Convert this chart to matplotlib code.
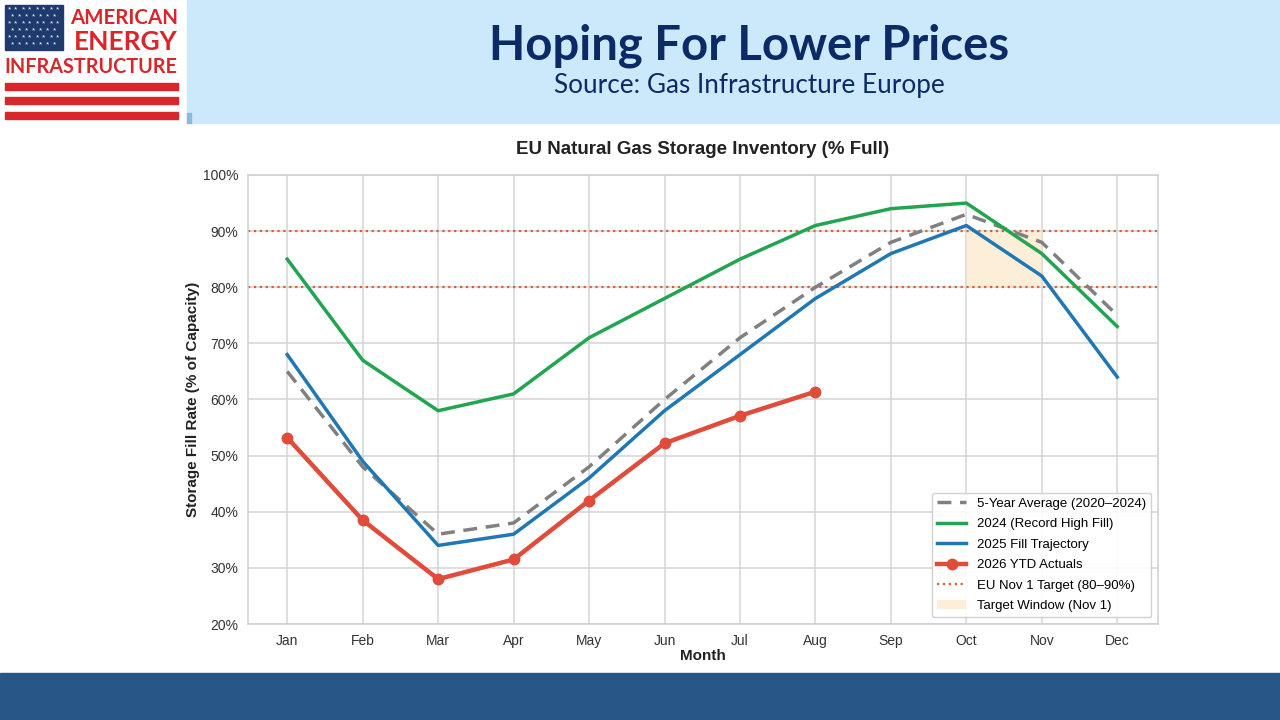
import numpy as np
import matplotlib.pyplot as plt
from matplotlib.patches import Rectangle

plt.rcParams['font.family'] = ['Liberation Sans', 'DejaVu Sans']

# data
months = ['Jan', 'Feb', 'Mar', 'Apr', 'May', 'Jun', 'Jul', 'Aug', 'Sep', 'Oct', 'Nov', 'Dec']
avg_5yr = [65, 48, 36, 38, 48, 60, 71, 80, 88, 93, 88, 75]
fill_2024 = [85, 67, 58, 61, 71, 78, 85, 91, 94, 95, 86, 73]
fill_2025 = [68, 49, 34, 36, 46, 58, 68, 78, 86, 91, 82, 64]
ytd_2026 = [53.2, 38.5, 28.0, 31.5, 42.0, 52.2, 57.1, 61.4]
target_low = 80
target_high = 90
window_months = ['Oct', 'Nov']

fig = plt.figure(figsize=(12.8, 7.2), dpi=100)

# header band and footer band
fig.patches.append(Rectangle((187/1280, 1 - 123/720), 1 - 187/1280, 123/720,
                             transform=fig.transFigure, color='#cce9fb', zorder=0))
fig.patches.append(Rectangle((187/1280, 1 - 123/720), 4/1280, 10/720,
                             transform=fig.transFigure, color='#8fb8de', zorder=1))
fig.patches.append(Rectangle((0, 0), 1, 47/720, transform=fig.transFigure,
                             color='#285686', zorder=0))

fig.text(749/1280, 1 - 46/720, 'Hoping For Lower Prices', ha='center', va='center',
         fontsize=34, fontweight='bold', color='#0c2a66', family=['Lato', 'DejaVu Sans'])
fig.text(749/1280, 1 - 86/720, 'Source: Gas Infrastructure Europe', ha='center', va='center',
         fontsize=18.8, color='#0c2a66', family=['Lato', 'DejaVu Sans'])

# logo
logo_red = '#d9262b'
fig.patches.append(Rectangle((5/1280, 1 - 50/720), 58/1280, 45/720,
                             transform=fig.transFigure, color='#1e3a6e', zorder=2))
for r in range(6):
    for c in range(8 if r % 2 == 0 else 7):
        sx = (9 + c * 7 + (3.5 if r % 2 else 0)) / 1280
        sy = 1 - (10 + r * 7) / 720
        fig.text(sx, sy, '*', color='white', fontsize=6, ha='center', va='center', zorder=3)
fig.text(178/1280, 1 - 18/720, 'AMERICAN', ha='right', va='center', fontsize=14.8,
         fontweight='bold', color=logo_red, family=['Lato', 'DejaVu Sans'])
fig.text(178/1280, 1 - 42/720, 'ENERGY', ha='right', va='center', fontsize=19,
         fontweight='bold', color=logo_red, family=['Lato', 'DejaVu Sans'])
fig.text(4/1280, 1 - 67/720, 'INFRASTRUCTURE', ha='left', va='center', fontsize=14.3,
         fontweight='bold', color=logo_red, family=['Lato', 'DejaVu Sans'])
for top in (83, 97, 112):
    fig.patches.append(Rectangle((5/1280, 1 - (top + 7)/720), 173/1280, 7/720,
                                 transform=fig.transFigure, color=logo_red, zorder=2))

# chart
ax = fig.add_axes([248/1280, 1 - 624/720, 910/1280, 449/720])
x = np.arange(len(months))

ax.axhline(target_high, color='#d9622b', ls=':', lw=1.6, zorder=2)
ax.axhline(target_low, color='#d9622b', ls=':', lw=1.6, zorder=2,
           label='EU Nov 1 Target (80\u201390%)')
i0, i1 = months.index(window_months[0]), months.index(window_months[1])
ax.fill_between([i0, i1], target_low, target_high, color='#fbe3bd', alpha=0.6,
                lw=0, zorder=1, label='Target Window (Nov 1)')

ax.plot(x, avg_5yr, color='#808080', ls='--', lw=2.5, dashes=(4, 2.5), zorder=3,
        label='5-Year Average (2020\u20132024)')
ax.plot(x, fill_2024, color='#22a450', lw=2.5, zorder=3, label='2024 (Record High Fill)')
ax.plot(x, fill_2025, color='#1f77b4', lw=2.5, zorder=3, label='2025 Fill Trajectory')
ax.plot(x[:len(ytd_2026)], ytd_2026, color='#e04b3a', lw=3.2, marker='o', ms=7.5,
        zorder=4, label='2026 YTD Actuals')

ax.set_xlim(-0.52, 11.54)
ax.set_ylim(20, 100)
ax.set_xticks(x)
ax.set_xticklabels(months)
ax.set_yticks(range(20, 101, 10))
ax.set_yticklabels([f'{v}%' for v in range(20, 101, 10)])
ax.tick_params(labelsize=10, length=0, pad=7, colors='#333333')
ax.grid(True, color='#d4d4d4', lw=1.1)
ax.set_axisbelow(True)
for s in ax.spines.values():
    s.set_color('#d0d0d0')
    s.set_linewidth(1.1)

ax.set_title('EU Natural Gas Storage Inventory (% Full)', fontsize=13.5,
             fontweight='bold', pad=15, color='#222222')
ax.set_xlabel('Month', fontsize=11, fontweight='bold', labelpad=1, color='#222222')
ax.set_ylabel('Storage Fill Rate (% of Capacity)', fontsize=11, fontweight='bold',
              labelpad=2, color='#222222')

h, l = ax.get_legend_handles_labels()
order = [l.index(n) for n in ['5-Year Average (2020\u20132024)', '2024 (Record High Fill)',
                              '2025 Fill Trajectory', '2026 YTD Actuals',
                              'EU Nov 1 Target (80\u201390%)', 'Target Window (Nov 1)']]
leg = ax.legend([h[i] for i in order], [l[i] for i in order], loc='lower right',
                fontsize=9.5, frameon=True, framealpha=0.9, edgecolor='#cccccc',
                borderaxespad=0.5, handlelength=2.2, labelspacing=0.62)

fig.savefig('out.png', dpi=100)
